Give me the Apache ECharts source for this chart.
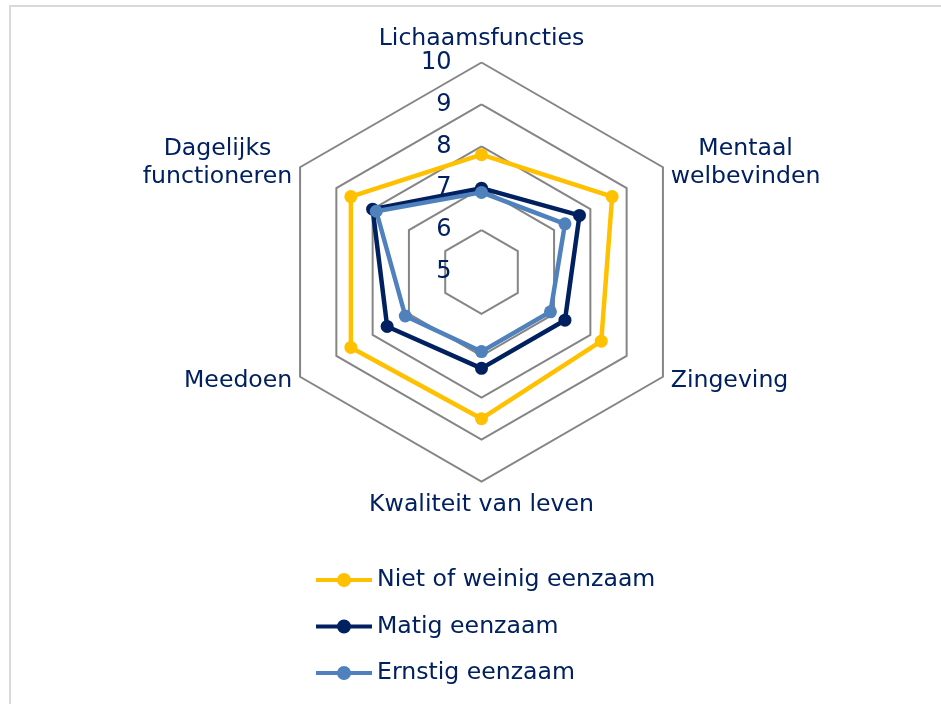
<!DOCTYPE html>
<html>
<head>
<meta charset="utf-8">
<script src="https://cdn.jsdelivr.net/npm/echarts@6/dist/echarts.min.js"></script>
<style>
  html, body { margin: 0; padding: 0; background: #fff; }
  #chart { position: absolute; left: 0; top: 0; width: 941px; height: 704px; }
  #frame { position: absolute; left: 9px; top: 5px; width: 1000px; height: 800px;
           border-left: 2px solid #d9d9d9; border-top: 2px solid #d9d9d9; pointer-events: none; }
</style>
</head>
<body>
<div id="chart"></div>
<div id="frame"></div>
<script>
// axes in ECharts order (counter-clockwise from the top)
const indicators = ["Lichaamsfuncties", "Dagelijks\nfunctioneren", "Meedoen", "Kwaliteit van leven", "Zingeving", "Mentaal\nwelbevinden"];
const groups = ["Niet of weinig eenzaam", "Matig eenzaam", "Ernstig eenzaam"];
const nietEenzaam = [7.8, 8.6, 8.6, 8.5, 8.3, 8.6];
const matigEenzaam = [7.0, 8.0, 7.6, 7.3, 7.3, 7.7];
const ernstigEenzaam = [6.9, 7.9, 7.1, 6.9, 6.9, 7.3];
const colors = ["#FFC000", "#002060", "#4F81BD"];

const navy = "#002060";
const font = "DejaVu Sans";
const fs = 23.6;
const legendIcon = "path://M0,5 L22,5 L22,9 L0,9 Z M34,5 L56,5 L56,9 L34,9 Z M21,7 A7,7 0 1,1 35,7 A7,7 0 1,1 21,7 Z";

const chart = echarts.init(document.getElementById("chart"));
chart.setOption({
  animation: false,
  textStyle: { fontFamily: font },
  legend: {
    orient: "vertical",
    left: 311,
    top: 563,
    itemWidth: 56,
    itemHeight: 14,
    itemGap: 22.5,
    data: groups.map((g) => ({ name: g, icon: legendIcon })),
    textStyle: { color: navy, fontSize: fs, fontFamily: font },
  },
  radar: {
    center: [481.5, 272],
    radius: 209.5,
    shape: "polygon",
    splitNumber: 5,
    startAngle: 90,
    nameGap: 9,
    indicator: indicators.map((name, i) => ({
      name, min: 5, max: 10,
      axisLabel: i === 0 ? { show: true } : undefined,
    })),
    axisName: {
      color: navy,
      fontSize: fs,
      fontFamily: font,
      formatter: (v) => v.split("\n").map((s) => "{a|" + s + "}").join("\n"),
      rich: { a: { align: "center", color: navy, fontSize: fs, fontFamily: font, lineHeight: 28 } },
    },
    axisLine: { show: false },
    axisTick: { show: false },
    axisLabel: { show: false, color: navy, fontSize: 24, fontFamily: font, margin: 30, padding: [6, 0, 0, 0], showMinLabel: true, showMaxLabel: true },
    splitLine: { lineStyle: { color: "#858585", width: 2 } },
    splitArea: { show: false },
  },
  series: [{
    type: "radar",
    symbol: "circle",
    symbolSize: 13,
    data: [nietEenzaam, matigEenzaam, ernstigEenzaam].map((values, i) => ({
      name: groups[i],
      value: values,
      itemStyle: { color: colors[i] },
      lineStyle: { color: colors[i], width: 4.5 },
    })),
  }],
});
</script>
</body>
</html>
